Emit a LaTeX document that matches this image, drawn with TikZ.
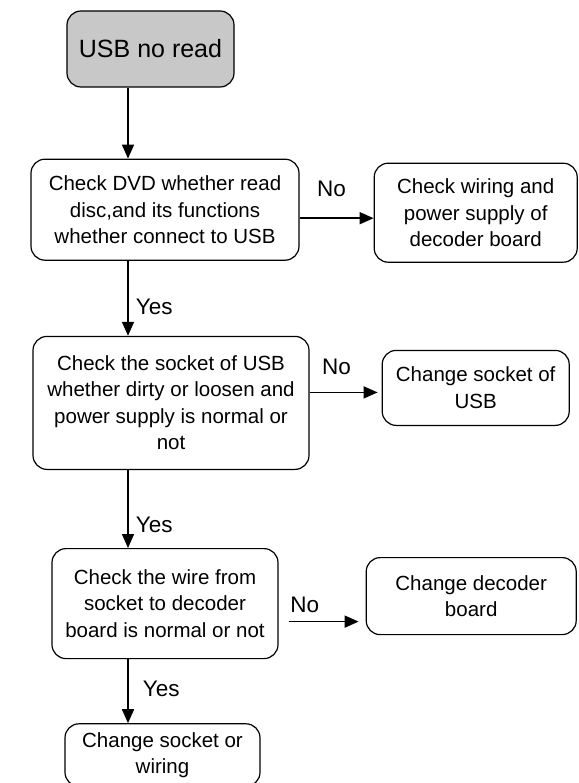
\documentclass[tikz,border=0pt]{standalone}
\usepackage{fontspec}
\setmainfont{Liberation Sans}
\usepackage{tikz}
\usetikzlibrary{arrows.meta,positioning}
\newcommand{\flowfont}{\fontsize{20.5}{26.5}\selectfont}
\newcommand{\labelfont}{\fontsize{22.5}{27}\selectfont}
\definecolor{startgray}{RGB}{200,200,200}

\begin{document}
\begin{tikzpicture}[x=1pt,y=-1pt,>={Triangle[length=14pt,width=12pt]},
	box/.style={draw,rounded corners=14pt,line width=1.2pt,align=center,font=\flowfont},
	arr/.style={->,line width=1.6pt},
	lbl/.style={font=\labelfont,inner sep=0pt}]
\useasboundingbox (0,0) rectangle (578,783);
\coordinate (spine) at (128,0);

\node	[box,fill=startgray,font=\fontsize{25}{30}\selectfont,minimum width=167pt,minimum height=76pt]	(start)	at (150.5,49)	{USB no read};
\node	[box,minimum width=268pt,minimum height=101pt]	(dvd)	[below=71pt of start,xshift=14.5pt]	{Check DVD whether read\\disc,and its functions\\whether connect to USB};
\node	[box,minimum width=276pt,minimum height=133pt]	(sock)	[below=75pt of dvd,xshift=6pt]	{Check the socket of USB\\whether dirty or loosen and\\power supply is normal or\\not};
\node	[box,minimum width=226pt,minimum height=110pt]	(wire)	[below=78pt of sock,xshift=-6pt]	{Check the wire from\\socket to decoder\\board is normal or not};
\node	[box,minimum width=195pt,minimum height=62.5pt]	(fin)	[below=64pt of wire,xshift=-2.5pt]	{Change socket or\\wiring};
\node	[box,minimum width=203pt,minimum height=99pt]	(wiring)	[right=74pt of dvd,yshift=-3pt]	{Check wiring and\\power supply of\\decoder board};
\node	[box,minimum width=187pt,minimum height=75pt]	(usbsock)	[right=72pt of sock,yshift=15pt]	{Change socket of\\USB};
\node	[box,minimum width=210pt,minimum height=77pt]	(board)	[right=87pt of wire,yshift=7.5pt]	{Change decoder\\board};

\path	[arr]
	(start.south -| spine)	edge	(dvd.north -| spine)
	(dvd.south -| spine)	edge	node	[lbl,right=7pt,pos=0.61]	{Yes}	(sock.north -| spine)
	(sock.south -| spine)	edge	node	[lbl,right=7pt,pos=0.705]	{Yes}	(wire.north -| spine)
	(wire.south -| spine)	edge	node	[lbl,right=14pt,pos=0.47]	{Yes}	(fin.north -| spine)
	([yshift=-8.5pt]dvd.east)	edge	node	[lbl,above=21pt,pos=0.43]	{No}	([yshift=-5.5pt]wiring.west)
	([yshift=10.5pt]sock.east)	edge	[shorten >=4pt]	node	[lbl,above=17pt,pos=0.375]	{No}	([yshift=-4.5pt]usbsock.west)
	([yshift=-18pt]wire.east)	edge	[shorten <=10pt,shorten >=7pt]	node	[lbl,above=8pt,pos=0.3]	{No}	([yshift=-25.5pt]board.west)
;
\end{tikzpicture}
\end{document}
